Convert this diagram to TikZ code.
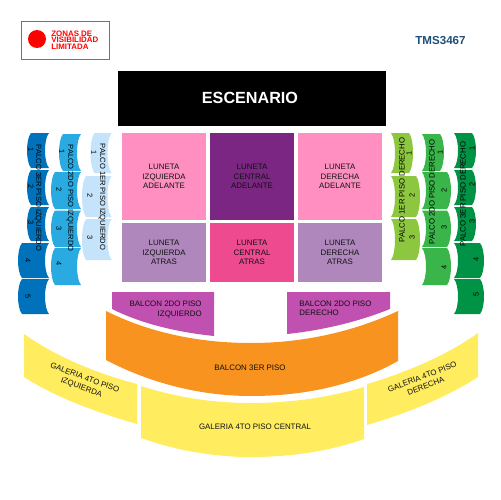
\documentclass[tikz,border=0pt]{standalone}
\usepackage{fontspec}
\setmainfont{Liberation Sans}
\definecolor{cPink}{HTML}{FF8FC0}
\definecolor{cPurple}{HTML}{7B2682}
\definecolor{cLilac}{HTML}{AF87BC}
\definecolor{cRose}{HTML}{EE4A90}
\definecolor{cMag}{HTML}{C151B0}
\definecolor{cOrange}{HTML}{F7931E}
\definecolor{cYellow}{HTML}{FFEC5F}
\definecolor{cB1}{HTML}{C5E3FA}
\definecolor{cB2}{HTML}{29ABE2}
\definecolor{cB3}{HTML}{0072BC}
\definecolor{cG1}{HTML}{8DC63F}
\definecolor{cG2}{HTML}{39B54A}
\definecolor{cG3}{HTML}{009245}
\definecolor{cTxt}{HTML}{111111}
\definecolor{cCode}{HTML}{1F4E79}
\tikzset{
  lbl/.style={font=\fontsize{4.5}{5.2}\selectfont,text=cTxt,align=center,inner sep=0pt},
  glbl/.style={font=\fontsize{4.5}{5.7}\selectfont,text=cTxt,align=center,inner sep=0pt},
  vlbll/.style={font=\fontsize{4.3}{5.2}\selectfont,text=black,inner sep=0pt},
  vlblr/.style={font=\fontsize{4.4}{5.2}\selectfont,text=black,inner sep=0pt},
  num/.style={font=\fontsize{4.2}{5}\selectfont,text=black,inner sep=0pt},
}
% colour, left corner x, right corner x, y1, y2
\newcommand{\palL}[5]{\fill[#1] (#2,#4) .. controls (#2-5.3,{#4+0.17*(#5-#4)}) and (#2-5.3,{#4+0.83*(#5-#4)}) .. (#2,#5) -- (#3,#5) .. controls (#3-5.3,{#4+0.83*(#5-#4)}) and (#3-5.3,{#4+0.17*(#5-#4)}) .. (#3,#4) -- cycle;}
\newcommand{\palR}[5]{\fill[#1] (#2,#4) .. controls (#2+5.3,{#4+0.17*(#5-#4)}) and (#2+5.3,{#4+0.83*(#5-#4)}) .. (#2,#5) -- (#3,#5) .. controls (#3+5.3,{#4+0.83*(#5-#4)}) and (#3+5.3,{#4+0.17*(#5-#4)}) .. (#3,#4) -- cycle;}
\begin{document}
\begin{tikzpicture}[x=0.02cm,y=-0.02cm]
\useasboundingbox (0,0) rectangle (500,500);
% legend
\node[draw=black!55,line width=0.3pt,fill=white,minimum width=1.76cm,minimum height=0.76cm,inner sep=0pt] (legend) at (65,40) {};
\fill[red] (37,39) circle (9);
\node[font=\bfseries\fontsize{4.5}{3.75}\selectfont,text=red,align=left,inner sep=0pt,anchor=west] (legtxt) at (51,40) {ZONAS DE\\VISIBILIDAD\\LIMITADA};
\node[font=\bfseries\fontsize{6.6}{8}\selectfont,text=cCode,inner sep=0pt] (code) at (440.5,41) {TMS3467};
% stage
\node[fill=black,minimum width=5.36cm,minimum height=1.1cm,inner sep=0pt] (stage) at (252,98.5) {};
\node[text=white,font=\bfseries\fontsize{9.2}{11}\selectfont,inner sep=0pt] (stagetxt) at (250,97.5) {ESCENARIO};
% luneta
\tikzset{lun/.style={minimum width=1.68cm,inner sep=0pt,font=\fontsize{4.5}{5.45}\selectfont,text=cTxt,align=center}}
\node[lun,fill=cPink,minimum height=1.74cm] (l1) at (164,176.5) {LUNETA\\IZQUIERDA\\ADELANTE};
\node[lun,fill=cPurple,minimum height=1.74cm] (l2) at (252,176.5) {LUNETA\\CENTRAL\\ADELANTE};
\node[lun,fill=cPink,minimum height=1.74cm] (l3) at (340,176.5) {LUNETA\\DERECHA\\ADELANTE};
\node[lun,fill=cLilac,minimum height=1.18cm] (l4) at (164,252.5) {LUNETA\\IZQUIERDA\\ATRAS};
\node[lun,fill=cRose,minimum height=1.18cm] (l5) at (252,252.5) {LUNETA\\CENTRAL\\ATRAS};
\node[lun,fill=cLilac,minimum height=1.18cm] (l6) at (340,252.5) {LUNETA\\DERECHA\\ATRAS};
% left boxes
\palL{cB1}{94.5}{111.5}{133}{173}
\palL{cB1}{86}{111.5}{176}{217}
\palL{cB1}{86}{111.5}{219}{260}
\palL{cB2}{63}{81}{134}{171}
\palL{cB2}{55}{81}{172}{209}
\palL{cB2}{55}{81}{210.5}{247}
\palL{cB2}{55}{81}{248}{285}
\palL{cB3}{31}{49}{133}{168}
\palL{cB3}{31}{49}{170}{205}
\palL{cB3}{31}{49}{207}{241}
\palL{cB3}{22}{49}{243}{278}
\palL{cB3}{22}{49}{279}{314}
% right boxes
\palR{cG1}{391}{409}{133}{173}
\palR{cG1}{391}{416}{176}{217}
\palR{cG1}{391}{416}{219}{260}
\palR{cG2}{422}{440}{134}{171}
\palR{cG2}{422}{447}{172}{209}
\palR{cG2}{422}{447}{210.5}{247}
\palR{cG2}{422}{447}{248}{285}
\palR{cG3}{454}{472}{133}{168}
\palR{cG3}{454}{472}{170}{205}
\palR{cG3}{454}{472}{207}{241}
\palR{cG3}{454}{480}{243}{278}
\palR{cG3}{454}{480}{279}{314}
% balcon
\fill[cMag] (112,292) -- (214,292) -- (214,336) .. controls (175,332) and (140,323) .. (112,309) -- cycle;
\fill[cMag] (287,292) -- (390,292) -- (390,309) .. controls (360,321) and (325,330) .. (287,334) -- cycle;
\fill[cOrange] (106,311) .. controls (150,333) and (200,343) .. (251,343) .. controls (305,343) and (355,331) .. (398,311) -- (398,361) .. controls (355,385) and (305,396) .. (251,396) .. controls (200,396) and (150,383) .. (106,360) -- cycle;
% galeria
\fill[cYellow] (24,334) .. controls (55,356) and (95,373) .. (137,384) -- (137,424) .. controls (95,412) and (55,397) .. (24,377) -- cycle;
\fill[cYellow] (141,386) .. controls (175,397) and (212,403) .. (251,403) .. controls (292,403) and (330,397) .. (364,387) -- (364,439) .. controls (330,451) and (292,457) .. (251,457) .. controls (212,457) and (175,450) .. (141,438) -- cycle;
\fill[cYellow] (367,384) .. controls (408,372) and (447,355) .. (478,333) -- (478,377) .. controls (447,397) and (408,413) .. (367,425) -- cycle;
% labels
\node[vlbll,rotate=-90] (t1) at (102,197) {PALCO 1ER PISO IZQUIERDO};
\node[vlbll,rotate=-90] (t2) at (70,198) {PALCO 2DO PISO IZQUIERDO};
\node[vlbll,rotate=-90] (t3) at (38,198) {PALCO 3ER PISO IZQUIERDO};
\node[vlblr,rotate=90] (t4) at (402,190) {PALCO 1ER PISO DERECHO};
\node[vlblr,rotate=90] (t5) at (432,192) {PALCO 2DO PISO DERECHO};
\node[vlblr,rotate=90] (t6) at (463,194) {PALCO 3ER PISO DERECHO};
\foreach \n/\x/\y [count=\i] in {1/94/153,2/90/196,3/90/238,1/62/152,2/59/190,3/59/229,4/59/264,1/31/150,2/31/187,3/31/223,4/28/261,5/28/297}
  \node[num,rotate=-90] (nl\i) at (\x,\y) {\n};
\foreach \n/\x/\y [count=\i] in {1/409/153,2/412/195,3/412/237,1/440/152,2/444/190,3/444/227,4/444/267,1/472/148,2/472/184,3/472/221,4/476/259,5/476/294}
  \node[num,rotate=90] (nr\i) at (\x,\y) {\n};
\node[lbl,align=right,anchor=east] (b1) at (202,309.5) {BALCON 2DO PISO\\IZQUIERDO};
\node[lbl,align=left,anchor=west] (b2) at (299,308.5) {BALCON 2DO PISO\\DERECHO};
\node[lbl] (b3) at (250,368) {BALCON 3ER PISO};
\node[glbl,rotate=-20] (g1) at (83,383) {GALERIA 4TO PISO\\IZQUIERDA};
\node[lbl] (g2) at (255,427) {GALERIA 4TO PISO CENTRAL};
\node[glbl,rotate=21] (g3) at (424,381.5) {GALERIA 4TO PISO\\DERECHA};
\end{tikzpicture}
\end{document}
